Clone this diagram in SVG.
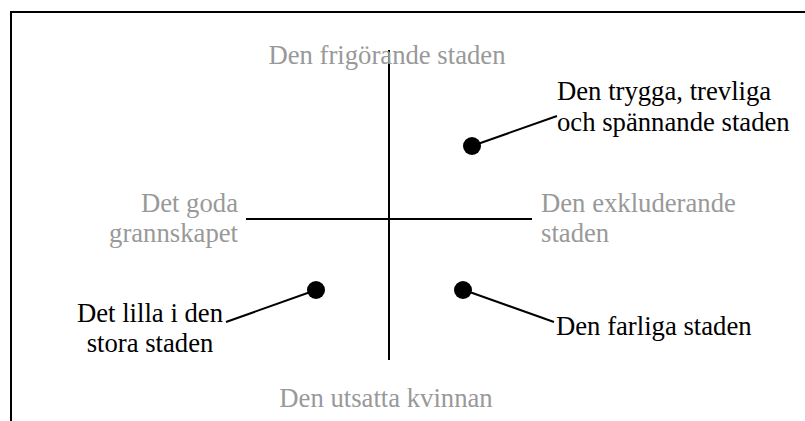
<svg xmlns="http://www.w3.org/2000/svg" width="805" height="421" viewBox="0 0 805 421">
<style>
.t{font-family:"Liberation Serif","Times New Roman",serif;font-size:26.7px;fill:#000}
.g{fill:#999999}
.ln{stroke:#000;stroke-width:2;fill:none}
.dot{fill:#000}
</style>
<rect width="805" height="421" fill="#fff"/>
<g id="frame"><path class="ln" d="M11,421 V12 H805"/></g>
<g id="axes">
<line class="ln" x1="389" y1="50" x2="389" y2="360"/>
<line class="ln" x1="246" y1="219" x2="532" y2="219"/>
</g>
<g id="label-top"><text class="t g" x="387" y="64" text-anchor="middle">Den frigörande staden</text></g>
<g id="label-bottom"><text class="t g" x="386" y="407" text-anchor="middle">Den utsatta kvinnan</text></g>
<g id="label-left"><text class="t g" text-anchor="end"><tspan x="238" y="212">Det goda</tspan><tspan x="238" y="242">grannskapet</tspan></text></g>
<g id="label-right"><text class="t g"><tspan x="541" y="212">Den exkluderande</tspan><tspan x="541" y="242">staden</tspan></text></g>
<g id="connectors">
<line class="ln" x1="472" y1="146" x2="557" y2="116"/>
<line class="ln" x1="316" y1="290" x2="226" y2="322"/>
<line class="ln" x1="464" y1="290" x2="554" y2="322"/>
</g>
<g id="node-trygga">
<circle class="dot" cx="472" cy="146" r="9"/>
<text class="t"><tspan x="557" y="100">Den trygga, trevliga</tspan><tspan x="557" y="131">och spännande staden</tspan></text>
</g>
<g id="node-lilla">
<circle class="dot" cx="316" cy="290" r="9"/>
<text class="t" text-anchor="middle"><tspan x="150" y="322">Det lilla i den</tspan><tspan x="150" y="352">stora staden</tspan></text>
</g>
<g id="node-farliga">
<circle class="dot" cx="463" cy="290" r="9"/>
<text class="t"><tspan x="556" y="335">Den farliga staden</tspan></text>
</g>
</svg>
